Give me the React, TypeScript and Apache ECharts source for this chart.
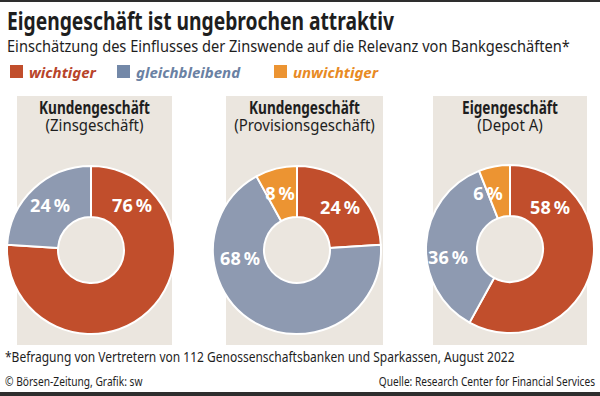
import React, { useEffect, useRef } from "react";
import * as echarts from "echarts";

const categories = ["wichtiger", "gleichbleibend", "unwichtiger"];
const sliceColors = ["#c14e2c", "#8e9ab1", "#ec9432"];
const legendIconColors = ["#c14e2c", "#7388a8", "#ec9432"];
const legendTextColors = ["#b8442a", "#6a81a3", "#e88a24"];
const panelTitles = ["Kundengeschäft", "Kundengeschäft", "Eigengeschäft"];
const panelSubtitles = ["(Zinsgeschäft)", "(Provisionsgeschäft)", "(Depot A)"];
const kundenZins = [76, 24, 0];
const kundenProvision = [24, 68, 8];
const eigengeschaeft = [58, 36, 6];

const titleText = "Eigengeschäft ist ungebrochen attraktiv";
const subtitleText = "Einschätzung des Einflusses der Zinswende auf die Relevanz von Bankgeschäften*";
const footnoteText = "*Befragung von Vertretern von 112 Genossenschaftsbanken und Sparkassen, August 2022";
const creditText = "© Börsen-Zeitung, Grafik: sw";
const sourceText = "Quelle: Research Center for Financial Services";

const FONT = "'Noto Sans', 'Open Sans', sans-serif";

export default function App() {
  const ref = useRef<HTMLDivElement>(null);
  useEffect(() => {
    if (!ref.current) return;
    const chart = echarts.init(ref.current, undefined, { renderer: "svg" });

    const panels = [
      { x: 17, w: 155, cx: 91, cy: 250, labels: [[132, 205], [50, 205], [0, 0]] },
      { x: 226, w: 157, cx: 297, cy: 250, labels: [[340, 207], [240, 258], [280, 193]] },
      { x: 433, w: 154, cx: 510, cy: 249, labels: [[550, 207], [448, 257], [488, 193]] },
    ];
    const values = [kundenZins, kundenProvision, eigengeschaeft];
    const legendLefts = [8, 115, 272];

    const txt = (
      text: string, x: number, y: number, size: number, weight: string,
      align: string, sx: number, color = "#1e1e1e"
    ) => ({
      type: "text", x, y, scaleX: sx, z: 10,
      style: { text, fontSize: size, fontWeight: weight, fontFamily: FONT, fill: color, textAlign: align, textVerticalAlign: "middle" },
    });

    const graphics: any[] = [
      { type: "rect", shape: { x: 0, y: 0, width: 600, height: 2 }, style: { fill: "#2e2e2e" }, z: 10 },
      { type: "rect", shape: { x: 0, y: 392, width: 600, height: 4 }, style: { fill: "#2e2e2e" }, z: 10 },
      txt(titleText, 7, 20, 25, "bold", "left", 0.77),
      txt(subtitleText, 7, 46, 17, "normal", "left", 0.86),
      txt(footnoteText, 5, 356, 15, "normal", "left", 0.8),
      txt(creditText, 5, 381, 12, "normal", "left", 0.85),
      txt(sourceText, 595, 381, 12, "normal", "right", 0.845),
    ];
    panels.forEach((p, i) => {
      graphics.push({ type: "rect", z: -1, shape: { x: p.x, y: 96, width: p.w, height: 249 }, style: { fill: "#ebe6df" } });
      graphics.push(txt(panelTitles[i], p.x + p.w / 2, 108, 17, "bold", "center", 0.8));
      graphics.push(txt(panelSubtitles[i], p.x + p.w / 2, 125, 17, "normal", "center", 0.88));
    });

    const series = panels.map((p, i) => {
      const data = values[i]
        .map((v, k) => ({ name: categories[k], value: v, itemStyle: { color: sliceColors[k] }, k }))
        .filter((d) => d.value > 0);
      return {
        type: "pie",
        center: [p.cx, p.cy],
        radius: [33, 84],
        startAngle: 90,
        clockwise: true,
        avoidLabelOverlap: false,
        itemStyle: { borderColor: "#ffffff", borderWidth: 2 },
        label: {
          show: true,
          position: "inside",
          formatter: "{c}\u2009%",
          color: "#ffffff",
          fontSize: 18,
          fontWeight: "bold",
          fontFamily: FONT,
        },
        labelLine: { show: false },
        labelLayout: (params: any) => {
          const d = data[params.dataIndex];
          const pos = p.labels[d.k];
          return { x: pos[0], y: pos[1], align: "center", verticalAlign: "middle" };
        },
        emphasis: { disabled: true },
        data,
      };
    });

    chart.setOption({
      animation: false,
      backgroundColor: "#ffffff",
      legend: categories.map((c, k) => ({
        left: legendLefts[k],
        top: 63,
        padding: 0,
        itemWidth: 15,
        itemHeight: 15,
        itemGap: 10,
        icon: "rect",
        selectedMode: false,
        data: [{
          name: c,
          itemStyle: { color: legendIconColors[k] },
          textStyle: { color: legendTextColors[k], fontStyle: "italic", fontWeight: "bold", fontSize: 15, fontFamily: FONT },
        }],
      })),
      graphic: graphics,
      series,
    });
    return () => chart.dispose();
  }, []);
  return (
    <div
      ref={ref}
      style={{ position: "fixed", left: 0, top: 0, width: 600, height: 396, background: "#fff" }}
    />
  );
}
